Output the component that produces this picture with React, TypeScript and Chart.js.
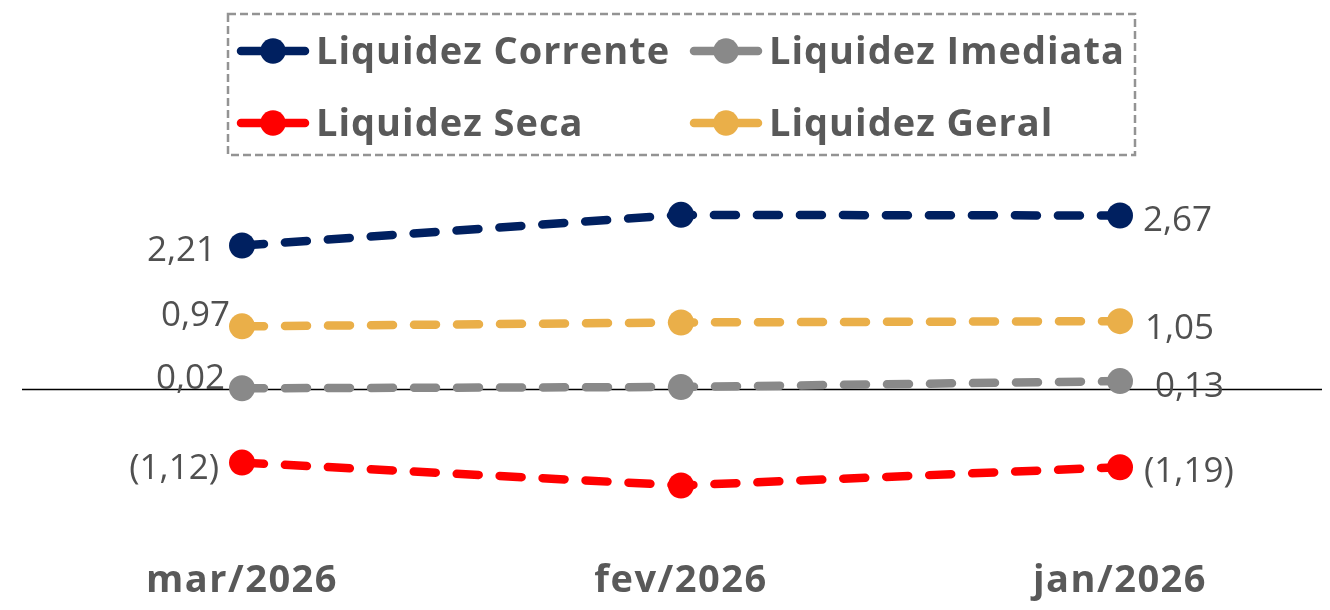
import React, { useEffect, useRef } from "react";
import { Chart, registerables } from "chart.js";

Chart.register(...registerables);

const categories = ["mar/2026", "fev/2026", "jan/2026"];
const seriesNames = ["Liquidez Corrente", "Liquidez Imediata", "Liquidez Seca", "Liquidez Geral"];
const liquidezCorrente = [2.21, 2.68, 2.67];
const liquidezImediata = [0.02, 0.04, 0.13];
const liquidezSeca = [-1.12, -1.47, -1.19];
const liquidezGeral = [0.97, 1.03, 1.05];
const seriesColors = ["#002060", "#898989", "#FF0000", "#EAAF49"];

const FONT = "'Open Sans', 'Noto Sans', sans-serif";
const TEXT_GRAY = "#595959";

// label offsets (dx, dy of digit-centre from point) per series: [first point, last point]
const labelOffsets: number[][][] = [
  [[-26, 3], [23, 3]],
  [[-17, -12], [35, 3]],
  [[-23, 4], [24, 2]],
  [[-12, -13], [25, 5]],
];

function fmt(v: number): string {
  const s = Math.abs(v).toFixed(2).replace(".", ",");
  return v < 0 ? `(${s})` : s;
}

const decorPlugin = {
  id: "decor",
  beforeDatasetsDraw(chart: any) {
    const ctx = chart.ctx;
    const y0 = chart.scales.y.getPixelForValue(0);
    ctx.save();
    ctx.strokeStyle = "#000000";
    ctx.lineWidth = 1.5;
    ctx.beginPath();
    ctx.moveTo(14, y0);
    ctx.lineTo(chart.width, y0);
    ctx.stroke();
    ctx.restore();
  },
  afterDatasetsDraw(chart: any) {
    const ctx = chart.ctx;
    ctx.save();
    const size = 35;
    ctx.font = `400 ${size}px ${FONT}`;
    ctx.fillStyle = "#505050";
    ctx.textBaseline = "alphabetic";
    chart.data.datasets.forEach((ds: any, di: number) => {
      const meta = chart.getDatasetMeta(di);
      const n = ds.data.length;
      [0, n - 1].forEach((idx, side) => {
        const pt = meta.data[idx];
        const [dx, dy] = labelOffsets[di][side];
        ctx.textAlign = side === 0 ? "right" : "left";
        ctx.fillText(fmt(ds.data[idx]), pt.x + dx, pt.y + dy + size * 0.357);
      });
    });
    ctx.restore();
  },
  afterDraw(chart: any) {
    const ctx = chart.ctx;
    ctx.save();
    // legend box
    ctx.strokeStyle = "#939393";
    ctx.lineWidth = 2.5;
    ctx.setLineDash([8, 4]);
    ctx.strokeRect(220, 6, 907, 141);
    ctx.setLineDash([]);
    const colX = [229, 682];
    const rowY = [43, 115];
    chart.data.datasets.forEach((ds: any, i: number) => {
      const x = colX[i % 2];
      const y = rowY[Math.floor(i / 2)];
      ctx.strokeStyle = ds.borderColor;
      ctx.lineWidth = 8.5;
      ctx.lineCap = "round";
      ctx.beginPath();
      ctx.moveTo(x + 4, y);
      ctx.lineTo(x + 68, y);
      ctx.stroke();
      ctx.fillStyle = ds.borderColor;
      ctx.beginPath();
      ctx.arc(x + 36, y, 12.7, 0, Math.PI * 2);
      ctx.fill();
      ctx.fillStyle = TEXT_GRAY;
      ctx.font = `700 38px ${FONT}`;
      (ctx as any).letterSpacing = "1px";
      ctx.textAlign = "left";
      ctx.textBaseline = "alphabetic";
      ctx.fillText(ds.label, x + 79, y + 13);
      (ctx as any).letterSpacing = "0px";
    });
    ctx.restore();
  },
};

const xLabelSpacing = {
  id: "xLabelSpacing",
  beforeDraw(chart: any) {
    (chart.ctx as any).letterSpacing = "1.5px";
  },
  beforeDatasetsDraw(chart: any) {
    (chart.ctx as any).letterSpacing = "0px";
  },
};

export default function App() {
  const ref = useRef<HTMLCanvasElement | null>(null);
  useEffect(() => {
    if (!ref.current) return;
    const values = [liquidezCorrente, liquidezImediata, liquidezSeca, liquidezGeral];
    const chart = new Chart(ref.current, {
      type: "line",
      data: {
        labels: categories,
        datasets: values.map((v, i) => ({
          label: seriesNames[i],
          data: v,
          borderColor: seriesColors[i],
          backgroundColor: seriesColors[i],
          pointBackgroundColor: seriesColors[i],
          pointBorderWidth: 0,
          pointRadius: 13,
          borderWidth: 8.5,
          borderDash: [22, 21],
          borderCapStyle: "round",
          tension: 0,
          fill: false,
        })),
      },
      options: {
        animation: false,
        responsive: true,
        maintainAspectRatio: false,
        layout: { padding: { top: 186, left: 234, right: 202, bottom: 0 } },
        plugins: {
          legend: { display: false },
          tooltip: { enabled: false },
        },
        scales: {
          x: {
            offset: false,
            grid: { display: false, drawTicks: false },
            border: { display: false },
            afterFit(scale: any) {
              scale.height = 82;
            },
            ticks: {
              padding: 38,
              color: TEXT_GRAY,
              font: { family: FONT, size: 38, weight: "bold" },
              maxRotation: 0,
            },
          },
          y: {
            display: false,
            min: -2,
            max: 3,
          },
        },
      },
      plugins: [xLabelSpacing, decorPlugin],
    });
    return () => chart.destroy();
  }, []);
  return (
    <div style={{ width: 1314, height: 594, position: "relative" }}>
      <canvas ref={ref} />
    </div>
  );
}
